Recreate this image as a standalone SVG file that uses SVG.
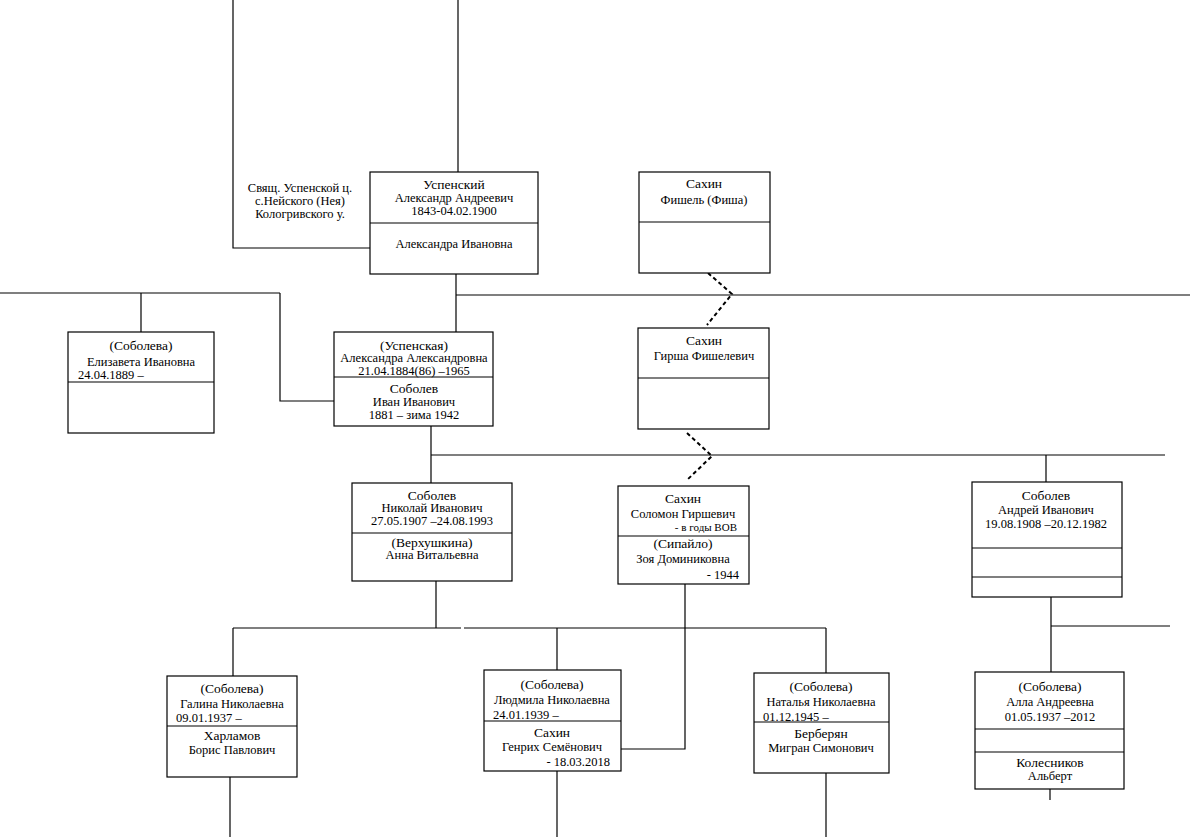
<svg xmlns="http://www.w3.org/2000/svg" width="1193" height="837" viewBox="0 0 1193 837">
<style>
rect.b{fill:#fff;stroke:#000;stroke-width:1.2}
line,polyline{stroke:#000;stroke-width:1.2;fill:none}
.d{stroke-dasharray:4 3;stroke-width:2}
text{font-family:"Liberation Serif","Times New Roman",serif;font-size:12.5px;fill:#000;text-anchor:middle}
text.l{text-anchor:start}
text.r{text-anchor:end}
text.big{font-size:13.5px}
</style>
<rect width="1193" height="837" fill="#fff"/>
<g id="connectors">
<line x1="458" y1="0" x2="458" y2="172"/>
<polyline points="233,0 233,248 370,248"/>
<line x1="456" y1="274" x2="456" y2="332"/>
<line x1="456" y1="295" x2="1190" y2="295"/>
<polyline class="d" points="708,273 732,294 707,325"/>
<line x1="0" y1="293" x2="280" y2="293"/>
<line x1="141" y1="293" x2="141" y2="332"/>
<polyline points="280,293 280,401 335,401"/>
<line x1="431" y1="426" x2="431" y2="483"/>
<line x1="431" y1="455" x2="1165" y2="455"/>
<polyline class="d" points="687,433 712,456 687,480"/>
<line x1="1046" y1="455" x2="1046" y2="482"/>
<line x1="436" y1="581" x2="436" y2="628"/>
<line x1="233" y1="628" x2="461" y2="628"/>
<line x1="464" y1="628" x2="826" y2="628"/>
<line x1="233" y1="628" x2="233" y2="676"/>
<line x1="557" y1="628" x2="557" y2="670"/>
<line x1="826" y1="628" x2="826" y2="673"/>
<polyline points="685,584 685,749 621,749"/>
<line x1="1051" y1="597" x2="1051" y2="672"/>
<line x1="1051" y1="626" x2="1170" y2="626"/>
<line x1="230" y1="777" x2="230" y2="837"/>
<line x1="557" y1="771" x2="557" y2="837"/>
<line x1="826" y1="773" x2="826" y2="837"/>
<line x1="1050" y1="789" x2="1050" y2="800"/>
</g>
<g id="caption">
<text x="300" y="192">Свящ. Успенской ц.</text>
<text x="300" y="205">с.Нейского (Нея)</text>
<text x="300" y="218">Кологривского у.</text>
</g>
<g id="uspensky">
<rect class="b" x="370" y="172" width="168" height="102"/>
<line x1="370" y1="223" x2="538" y2="223"/>
<text class="big" x="454" y="189">Успенский</text>
<text x="454" y="202">Александр Андреевич</text>
<text x="454" y="215">1843-04.02.1900</text>
<text x="454" y="248">Александра Ивановна</text>
</g>
<g id="fishel">
<rect class="b" x="639" y="172" width="131" height="101"/>
<line x1="639" y1="222" x2="770" y2="222"/>
<text class="big" x="704" y="188">Сахин</text>
<text x="704" y="204">Фишель (Фиша)</text>
</g>
<g id="girsha">
<rect class="b" x="638" y="328" width="131" height="101"/>
<line x1="638" y1="378" x2="769" y2="378"/>
<text class="big" x="704" y="345">Сахин</text>
<text x="704" y="360">Гирша Фишелевич</text>
</g>
<g id="elizaveta">
<rect class="b" x="68" y="332" width="146" height="101"/>
<line x1="68" y1="382" x2="214" y2="382"/>
<text class="big" x="141" y="350">(Соболева)</text>
<text x="141" y="366">Елизавета Ивановна</text>
<text class="l" x="78" y="379">24.04.1889 –</text>
</g>
<g id="alexandra">
<rect class="b" x="334" y="332" width="159" height="94"/>
<line x1="334" y1="377" x2="493" y2="377"/>
<text class="big" x="414" y="350">(Успенская)</text>
<text x="414" y="362">Александра Александровна</text>
<text x="414" y="375">21.04.1884(86) –1965</text>
<text class="big" x="414" y="393">Соболев</text>
<text x="414" y="406">Иван Иванович</text>
<text x="414" y="419">1881 – зима 1942</text>
</g>
<g id="nikolai">
<rect class="b" x="352" y="483" width="160" height="98"/>
<line x1="352" y1="533" x2="512" y2="533"/>
<text class="big" x="432" y="500">Соболев</text>
<text x="432" y="512">Николай Иванович</text>
<text x="432" y="525">27.05.1907 –24.08.1993</text>
<text class="big" x="432" y="547">(Верхушкина)</text>
<text x="432" y="559">Анна Витальевна</text>
</g>
<g id="solomon">
<rect class="b" x="618" y="486" width="131" height="98"/>
<line x1="618" y1="536" x2="749" y2="536"/>
<text class="big" x="683" y="503">Сахин</text>
<text x="683" y="518">Соломон Гиршевич</text>
<text class="r" x="737" y="531" style="font-size:11px">- в годы ВОВ</text>
<text class="big" x="683" y="548">(Сипайло)</text>
<text x="683" y="563">Зоя Доминиковна</text>
<text class="r" x="739" y="579">- 1944</text>
</g>
<g id="andrey">
<rect class="b" x="972" y="482" width="150" height="115"/>
<line x1="972" y1="548" x2="1122" y2="548"/>
<line x1="972" y1="577" x2="1122" y2="577"/>
<text class="big" x="1046" y="500">Соболев</text>
<text x="1046" y="514">Андрей Иванович</text>
<text x="1046" y="528">19.08.1908 –20.12.1982</text>
</g>
<g id="galina">
<rect class="b" x="167" y="676" width="130" height="101"/>
<line x1="167" y1="726" x2="297" y2="726"/>
<text class="big" x="232" y="693">(Соболева)</text>
<text x="232" y="708">Галина Николаевна</text>
<text class="l" x="176" y="722">09.01.1937 –</text>
<text class="big" x="232" y="740">Харламов</text>
<text x="232" y="754">Борис Павлович</text>
</g>
<g id="lyudmila">
<rect class="b" x="484" y="670" width="137" height="101"/>
<line x1="484" y1="721" x2="621" y2="721"/>
<text class="big" x="552" y="689">(Соболева)</text>
<text x="552" y="704">Людмила Николаевна</text>
<text class="l" x="493" y="719">24.01.1939 –</text>
<text class="big" x="552" y="737">Сахин</text>
<text x="552" y="751">Генрих Семёнович</text>
<text class="r" x="610" y="766">- 18.03.2018</text>
</g>
<g id="natalia">
<rect class="b" x="754" y="673" width="135" height="100"/>
<line x1="754" y1="722" x2="889" y2="722"/>
<text class="big" x="821" y="691">(Соболева)</text>
<text x="821" y="706">Наталья Николаевна</text>
<text class="l" x="763" y="721">01.12.1945 –</text>
<text class="big" x="821" y="738">Берберян</text>
<text x="821" y="752">Мигран Симонович</text>
</g>
<g id="alla">
<rect class="b" x="975" y="672" width="149" height="117"/>
<line x1="975" y1="729" x2="1124" y2="729"/>
<line x1="975" y1="752" x2="1124" y2="752"/>
<text class="big" x="1050" y="691">(Соболева)</text>
<text x="1050" y="706">Алла Андреевна</text>
<text x="1050" y="721">01.05.1937 –2012</text>
<text class="big" x="1050" y="767">Колесников</text>
<text x="1050" y="780">Альберт</text>
</g>
</svg>
